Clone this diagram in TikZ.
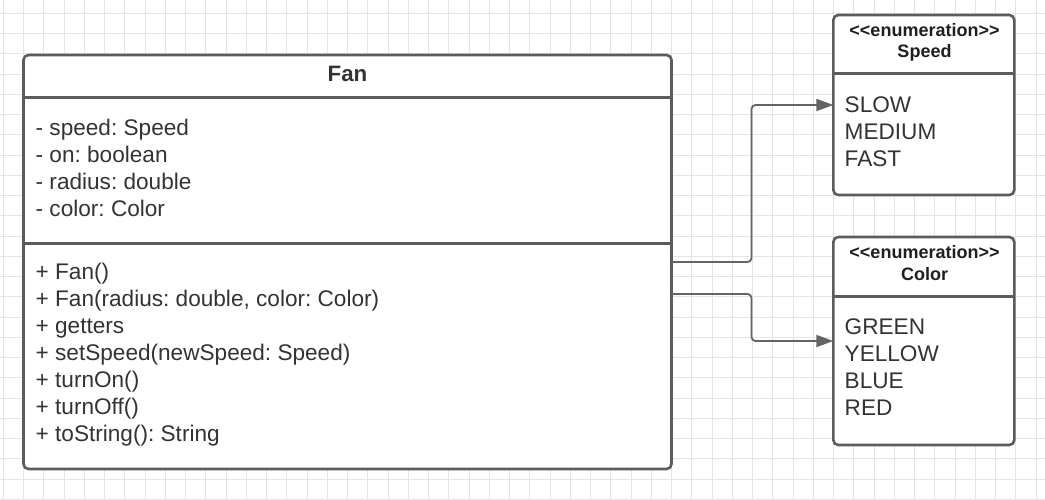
\documentclass[tikz,border=0pt]{standalone}
\usepackage{fontspec}
\setmainfont{Liberation Sans}
\usetikzlibrary{arrows.meta}

\definecolor{gridgray}{HTML}{E4E4E4}
\definecolor{boxgray}{HTML}{5C5C5C}
\definecolor{linkgray}{HTML}{646464}
\definecolor{textgray}{HTML}{333333}

\begin{document}
\frenchspacing
\begin{tikzpicture}[x=1pt, y=-1pt,
    gridline/.style={draw=gridgray, line width=1pt},
    umlbox/.style={draw=boxgray, line width=2.6pt, fill=white, rounded corners=5pt, inner sep=0pt, outer sep=0pt},
    divider/.style={draw=boxgray, line width=2.6pt},
    member/.style={anchor=base west, inner sep=0pt, text=textgray, font=\fontsize{22.6}{27}\selectfont},
    classname/.style={anchor=base, inner sep=0pt, text=textgray, font=\bfseries\fontsize{22.3}{27}\selectfont},
    stereo/.style={anchor=base, inner sep=0pt, text=black!88, font=\bfseries\fontsize{18}{21}\selectfont},
    assoc/.style={draw=linkgray, line width=1.8pt, rounded corners=4pt, -{Triangle[length=17pt, width=12pt]}}]

    % --- variables ---
    % x of the member texts, and the step between two text lines
    \def\fanx{35.5}
    \def\enumx{844.5}

    % --- 0. canvas and grid ---
    \useasboundingbox (0,0) rectangle (1045,499);
    \begin{scope}
        \clip (0,0) rectangle (1045,499);
        \foreach \k in {0,...,51} \draw[gridline] ({3.3+20.25*\k},0) -- ({3.3+20.25*\k},499);
        \foreach \k in {0,...,24} \draw[gridline] (0,{13.3+20.25*\k}) -- (1045,{13.3+20.25*\k});
    \end{scope}

    % --- 1. class boxes ---
    \node[umlbox, minimum width=648pt, minimum height=414pt] (fan) at (347.5,262) {};
    \node[umlbox, minimum width=181pt, minimum height=180pt] (speed) at (923.8,105) {};
    \node[umlbox, minimum width=181pt, minimum height=208pt] (color) at (923.8,341) {};

    % compartment lines
    \draw[divider] (fan.west |- 0,97.5) -- (fan.east |- 0,97.5);
    \draw[divider] (fan.west |- 0,243.3) -- (fan.east |- 0,243.3);
    \draw[divider] (speed.west |- 0,73.3) -- (speed.east |- 0,73.3);
    \draw[divider] (color.west |- 0,296.7) -- (color.east |- 0,296.7);

    % --- 2. the Fan class ---
    \node[classname] (fanname) at (347.5,81) {Fan};

    % (a) attributes
    \node[member] (attr1) at (\fanx,135) {- speed: Speed};
    \node[member] (attr2) at (\fanx,162) {- on: boolean};
    \node[member] (attr3) at (\fanx,189) {- radius: double};
    \node[member] (attr4) at (\fanx,216) {- color: Color};

    % (b) operations
    \node[member] (op1) at (\fanx,279.3) {+ Fan()};
    \node[member] (op2) at (\fanx,306.4) {+ Fan(radius: double, color: Color)};
    \node[member] (op3) at (\fanx,333.5) {+ getters};
    \node[member] (op4) at (\fanx,360.6) {+ setSpeed(newSpeed: Speed)};
    \node[member] (op5) at (\fanx,387.7) {+ turnOn()};
    \node[member] (op6) at (\fanx,414.8) {+ turnOff()};
    \node[member] (op7) at (\fanx,441.9) {+ toString(): String};

    % --- 3. enumeration Speed ---
    \node[stereo] (speedstereo) at (924.5,36) {<\kern0pt<enumeration>\kern0pt>};
    \node[stereo] (speedname) at (924.5,57) {Speed};
    \node[member] (slow) at (\enumx,112) {SLOW};
    \node[member] (medium) at (\enumx,139) {MEDIUM};
    \node[member] (fast) at (\enumx,166) {FAST};

    % --- 4. enumeration Color ---
    \node[stereo] (colorstereo) at (924.5,258.3) {<\kern0pt<enumeration>\kern0pt>};
    \node[stereo] (colorname) at (924.5,280.7) {Color};
    \node[member] (green) at (\enumx,334.3) {GREEN};
    \node[member] (yellow) at (\enumx,361.2) {YELLOW};
    \node[member] (blue) at (\enumx,388.1) {BLUE};
    \node[member] (red) at (\enumx,415) {RED};

    % --- 5. associations ---
    \coordinate (fanlow) at ([yshift=-32pt]fan.east);
    \draw[assoc] (fan.east) -- ++(80,0) |- (speed.west);
    \draw[assoc] (fanlow) -- ++(80,0) |- (color.west);

\end{tikzpicture}
\end{document}
